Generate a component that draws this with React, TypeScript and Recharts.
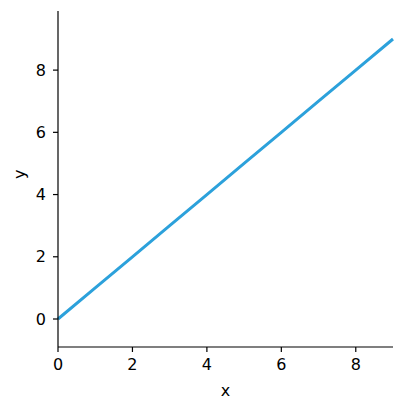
import { Label, Line, LineChart, XAxis, YAxis } from "recharts";

const xValues = [0, 1, 2, 3, 4, 5, 6, 7, 8, 9];
const yValues = [0, 1, 2, 3, 4, 5, 6, 7, 8, 9];
const xTicks = [0, 2, 4, 6, 8];
const yTicks = [0, 2, 4, 6, 8];

const data = xValues.map((x, i) => ({ x, y: yValues[i] }));

const font = "'DejaVu Sans'";
const tickStyle = { fontSize: 16, fill: "#000", style: { fontFamily: font } };

export default function App() {
  return (
    <div
      style={{
        position: "absolute",
        left: 0,
        top: 0,
        width: 406,
        height: 411,
        background: "#fff",
        fontFamily: font,
      }}
    >
      <LineChart width={406} height={411} data={data} margin={{ top: 11, right: 13, bottom: 0, left: 0 }}>
        <XAxis
          dataKey="x"
          type="number"
          domain={[0, 9]}
          ticks={xTicks}
          height={64}
          stroke="#000"
          tick={tickStyle}
          tickSize={5}
          tickMargin={7}
          axisLine={{ stroke: "#000", strokeWidth: 1.2 }}
          tickLine={{ stroke: "#000", strokeWidth: 1.2 }}
        >
          <Label value="x" position="insideBottom" offset={15} style={{ fontSize: 16, fill: "#000", fontFamily: font }} />
        </XAxis>
        <YAxis
          dataKey="y"
          type="number"
          domain={[-0.9, 9.9]}
          ticks={yTicks}
          width={58}
          stroke="#000"
          tick={tickStyle}
          tickSize={5}
          tickMargin={7}
          axisLine={{ stroke: "#000", strokeWidth: 1.2 }}
          tickLine={{ stroke: "#000", strokeWidth: 1.2 }}
        >
          <Label value="y" angle={-90} position="insideLeft" offset={19} style={{ fontSize: 16, fill: "#000", fontFamily: font }} />
        </YAxis>
        <Line
          type="linear"
          dataKey="y"
          stroke="#2ca1db"
          strokeWidth={3}
          dot={false}
          isAnimationActive={false}
        />
      </LineChart>
    </div>
  );
}
